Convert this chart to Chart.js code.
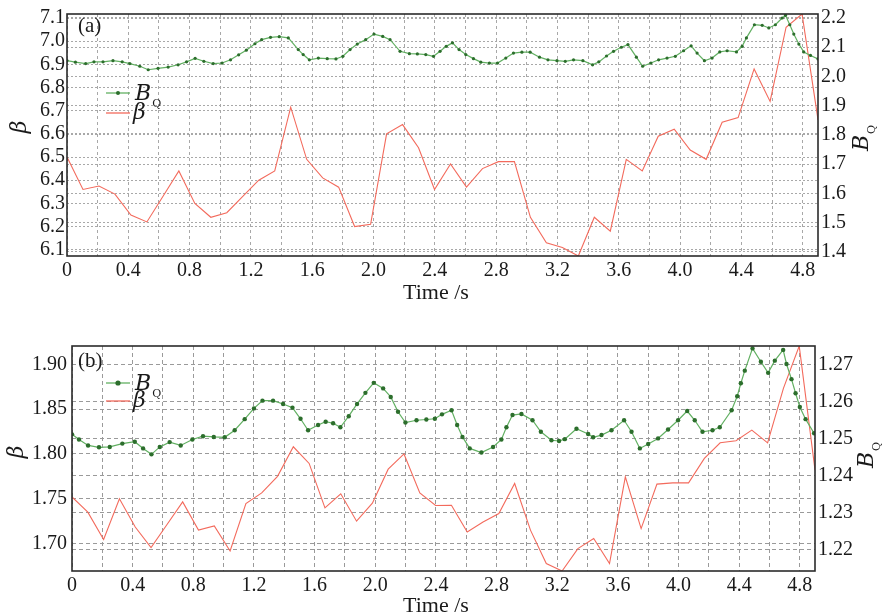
<!DOCTYPE html>
<html>
<head>
<meta charset="utf-8">
<title>beta and B_Q versus time</title>
<script src="https://cdn.jsdelivr.net/npm/chart.js@4.4.1/dist/chart.umd.min.js"></script>
<style>
  html, body { margin: 0; padding: 0; background: #fff; }
  #wrap { position: relative; width: 882px; height: 616px; overflow: hidden; }
  canvas { position: absolute; left: 0; }
  #chartA { top: 0; }
  #chartB { top: 310px; }
</style>
</head>
<body>
<div id="wrap">
  <canvas id="chartA" width="882" height="310"></canvas>
  <canvas id="chartB" width="882" height="306"></canvas>
</div>
<script>
/**
 * Two stacked panels: beta (left axis) and B_Q (right axis) against time.
 */

// ---- shared x axis ----
const timeMax = 4.9;
const timeStep = 0.2;            // grid spacing, labels every 0.4

// beta is sampled at a fixed step (48 samples from 0 to 4.9 s)
const betaSampleStep = 0.10426;

// ---- panel (a) ----
const betaA = [
    6.50, 6.36, 6.375, 6.34, 6.25, 6.22, 6.33, 6.44, 6.30, 6.24,
    6.26, 6.33, 6.40, 6.44, 6.715, 6.49, 6.41, 6.37, 6.20, 6.21,
    6.60, 6.64, 6.54, 6.36, 6.47, 6.37, 6.45, 6.48, 6.48, 6.24,
    6.13, 6.11, 6.073, 6.24, 6.18, 6.49, 6.44, 6.59, 6.62, 6.53,
    6.49, 6.65, 6.67, 6.88, 6.74, 7.06, 7.117, 6.66
];
const bqTimeA = [
    0, 0.055, 0.122, 0.176, 0.235, 0.30, 0.36, 0.41, 0.475, 0.53,
    0.594, 0.66, 0.725, 0.78, 0.836, 0.893, 0.954, 1.012, 1.067, 1.12,
    1.17, 1.226, 1.27, 1.328, 1.385, 1.444, 1.509, 1.541, 1.581, 1.64,
    1.698, 1.755, 1.80, 1.847, 1.894, 1.949, 2.003, 2.06, 2.108, 2.173,
    2.234, 2.286, 2.341, 2.391, 2.434, 2.474, 2.515, 2.558, 2.602, 2.652,
    2.70, 2.756, 2.809, 2.863, 2.913, 2.968, 3.022, 3.083, 3.138, 3.197,
    3.251, 3.305, 3.366, 3.429, 3.47, 3.52, 3.566, 3.617, 3.66, 3.715,
    3.756, 3.81, 3.86, 3.915, 3.969, 4.023, 4.072, 4.111, 4.159, 4.209,
    4.259, 4.307, 4.368, 4.405, 4.433, 4.485, 4.536, 4.579, 4.622, 4.666,
    4.688, 4.716, 4.742, 4.775, 4.807, 4.851, 4.90
];
const bqA = [
    2.054, 2.049, 2.044, 2.050, 2.050, 2.054, 2.050, 2.044, 2.035, 2.023,
    2.028, 2.032, 2.040, 2.050, 2.062, 2.052, 2.044, 2.046, 2.057, 2.074,
    2.090, 2.112, 2.126, 2.134, 2.136, 2.132, 2.092, 2.075, 2.057, 2.063,
    2.061, 2.060, 2.069, 2.092, 2.111, 2.126, 2.145, 2.137, 2.126, 2.086,
    2.078, 2.077, 2.075, 2.069, 2.086, 2.103, 2.115, 2.092, 2.075, 2.061,
    2.049, 2.046, 2.046, 2.063, 2.080, 2.083, 2.083, 2.066, 2.057, 2.054,
    2.052, 2.057, 2.054, 2.040, 2.050, 2.070, 2.086, 2.100, 2.109, 2.066,
    2.035, 2.046, 2.057, 2.063, 2.069, 2.088, 2.105, 2.080, 2.054, 2.063,
    2.084, 2.088, 2.084, 2.103, 2.132, 2.177, 2.175, 2.166, 2.177, 2.200,
    2.209, 2.177, 2.145, 2.111, 2.084, 2.072, 2.060
];

// ---- panel (b) ----
const betaB = [
    1.752, 1.735, 1.7045, 1.750, 1.7185, 1.6955, 1.721, 1.7465, 1.715, 1.7197,
    1.6917, 1.7447, 1.7565, 1.775, 1.808, 1.7894, 1.7398, 1.7555, 1.725, 1.745,
    1.783, 1.800, 1.7565, 1.7425, 1.7428, 1.713, 1.7241, 1.7335, 1.767, 1.715,
    1.6777, 1.6694, 1.6944, 1.7056, 1.6777, 1.7744, 1.7167, 1.7663, 1.7677, 1.7677,
    1.795, 1.8124, 1.8147, 1.8266, 1.8124, 1.8732, 1.9204, 1.7819
];
const bqTimeB = [
    0, 0.046, 0.106, 0.178, 0.249, 0.332, 0.414, 0.469, 0.524, 0.579,
    0.644, 0.717, 0.794, 0.864, 0.935, 1.007, 1.073, 1.139, 1.20, 1.256,
    1.326, 1.392, 1.454, 1.507, 1.557, 1.623, 1.673, 1.722, 1.770, 1.825,
    1.880, 1.935, 1.990, 2.052, 2.102, 2.150, 2.199, 2.272, 2.337, 2.393,
    2.440, 2.503, 2.540, 2.575, 2.623, 2.700, 2.777, 2.832, 2.865, 2.905,
    2.964, 3.037, 3.092, 3.162, 3.212, 3.25, 3.327, 3.404, 3.437, 3.492,
    3.558, 3.641, 3.69, 3.745, 3.80, 3.865, 3.931, 3.997, 4.057, 4.107,
    4.158, 4.224, 4.272, 4.35, 4.387, 4.411, 4.437, 4.488, 4.543, 4.591,
    4.635, 4.690, 4.712, 4.745, 4.772, 4.80, 4.838, 4.894
];
const bqB = [
    1.2511, 1.2497, 1.2481, 1.2476, 1.2477, 1.2486, 1.2491, 1.2473, 1.2457, 1.2477,
    1.2490, 1.2481, 1.2497, 1.2506, 1.2504, 1.2503, 1.2522, 1.2552, 1.2581, 1.2602,
    1.2602, 1.2593, 1.2583, 1.2553, 1.2522, 1.2536, 1.2545, 1.2541, 1.2530, 1.2560,
    1.2593, 1.2623, 1.2650, 1.2635, 1.2612, 1.2572, 1.2543, 1.2549, 1.2551, 1.2553,
    1.2565, 1.2576, 1.2536, 1.2504, 1.2473, 1.2462, 1.2477, 1.2497, 1.2530, 1.2563,
    1.2566, 1.2549, 1.2518, 1.2495, 1.2493, 1.2498, 1.2526, 1.2512, 1.2503, 1.2509,
    1.2522, 1.2549, 1.2518, 1.2473, 1.2485, 1.2500, 1.2524, 1.2549, 1.2574, 1.2549,
    1.2518, 1.2522, 1.2530, 1.2576, 1.2614, 1.2649, 1.2683, 1.2743, 1.2707, 1.2677,
    1.2710, 1.2739, 1.2701, 1.2660, 1.2622, 1.2585, 1.2552, 1.2514
];

// axis ranges and tick steps
const betaRangeA = [6.073, 7.117], betaTickA = 0.1;
const bqRangeA = [1.386, 2.2137], bqTickA = 0.1;
const betaRangeB = [1.6694, 1.9204], betaTickB = 0.05;
const bqRangeB = [1.2142, 1.27495], bqTickB = 0.01;

// ---- styling ----
const SERIF = '"Liberation Serif", "DejaVu Serif", serif';
const MATH = '"DejaVu Serif", serif';
const GREEN_LINE = '#62b062';
const GREEN_DOT = '#2c6e2c';
const RED_LINE = '#f36a5c';
const TEXT = '#1a1a1a';

function xTickLabel(value) {
    const k = Math.round(value * 10);
    if (k % 4 !== 0) return '';
    return k === 0 ? '0' : (k / 10).toFixed(1);
}

function drawBQ(ctx, x, y, size) {
    ctx.font = 'italic ' + size + 'px ' + MATH;
    ctx.fillText('B', x, y);
    const w = ctx.measureText('B').width;
    ctx.font = Math.round(size * 0.52) + 'px ' + MATH;
    ctx.fillText('Q', x + w + 1, y + size * 0.32);
}

function bqWidth(ctx, size) {
    ctx.font = 'italic ' + size + 'px ' + MATH;
    const w = ctx.measureText('B').width;
    ctx.font = Math.round(size * 0.52) + 'px ' + MATH;
    return w + 1 + ctx.measureText('Q').width;
}

// frame, panel tag, legend and axis titles
const decorations = {
    id: 'decorations',
    afterDraw(chart, args, o) {
        const ctx = chart.ctx;
        const a = chart.chartArea;
        ctx.save();
        ctx.strokeStyle = '#2b2b2b';
        ctx.lineWidth = 1.6;
        ctx.strokeRect(a.left, a.top, a.right - a.left, a.bottom - a.top);

        ctx.fillStyle = TEXT;
        ctx.textAlign = 'left';
        ctx.textBaseline = 'alphabetic';
        ctx.font = '21px ' + SERIF;
        ctx.fillText(o.tag, o.tagX, o.tagY);

        // legend
        ctx.lineWidth = 1.3;
        ctx.strokeStyle = GREEN_LINE;
        ctx.beginPath();
        ctx.moveTo(o.legX, o.legY1);
        ctx.lineTo(o.legX + o.legLen, o.legY1);
        ctx.stroke();
        ctx.fillStyle = GREEN_DOT;
        ctx.beginPath();
        ctx.arc(o.legX + o.legLen / 2, o.legY1, o.dot + 0.4, 0, Math.PI * 2);
        ctx.fill();
        ctx.strokeStyle = RED_LINE;
        ctx.beginPath();
        ctx.moveTo(o.legX, o.legY2);
        ctx.lineTo(o.legX + o.legLen, o.legY2);
        ctx.stroke();

        ctx.fillStyle = TEXT;
        drawBQ(ctx, o.legX + o.legLen + 5, o.legY1 + 7, 22);
        ctx.font = 'italic 22px ' + MATH;
        ctx.fillText('\u03B2', o.legX + o.legLen + 3, o.legY2 + 6);

        // x title
        ctx.font = '22px ' + SERIF;
        ctx.textAlign = 'center';
        ctx.textBaseline = 'middle';
        ctx.fillText('Time /s', o.xTitleX, o.xTitleY);

        // left title
        ctx.save();
        ctx.translate(o.leftTitleX, o.leftTitleY);
        ctx.rotate(-Math.PI / 2);
        ctx.font = 'italic 22px ' + MATH;
        ctx.fillText('\u03B2', 0, 0);
        ctx.restore();

        // right title
        ctx.save();
        ctx.translate(o.rightTitleX, o.rightTitleY);
        ctx.rotate(-Math.PI / 2);
        ctx.textAlign = 'left';
        ctx.textBaseline = 'alphabetic';
        const w = bqWidth(ctx, 22);
        drawBQ(ctx, -w / 2, 7, 22);
        ctx.restore();

        ctx.restore();
    }
};

function makePanel(canvasId, p) {
    const tickFont = { family: SERIF, size: 20, lineHeight: 1.0 };
    return new Chart(document.getElementById(canvasId), {
        type: 'line',
        data: {
            datasets: [{
                label: 'B_Q',
                data: p.bqTime.map((t, i) => ({ x: t, y: p.bq[i] })),
                yAxisID: 'yR',
                borderColor: GREEN_LINE,
                borderWidth: 1.2,
                pointRadius: p.dot,
                pointBackgroundColor: GREEN_DOT,
                pointBorderWidth: 0,
                tension: 0
            }, {
                label: '\u03B2',
                data: p.beta.map((v, i) => ({ x: i * betaSampleStep, y: v })),
                yAxisID: 'yL',
                borderColor: RED_LINE,
                borderWidth: 1.1,
                pointRadius: 0,
                tension: 0
            }]
        },
        options: {
            responsive: false,
            animation: false,
            devicePixelRatio: 1,
            layout: { padding: { top: p.padTop, left: 0, right: 0, bottom: 0 } },
            plugins: {
                legend: { display: false },
                tooltip: { enabled: false },
                decorations: p.deco
            },
            scales: {
                x: {
                    type: 'linear',
                    min: 0,
                    max: timeMax,
                    afterFit: s => { s.height = p.xAxisH; },
                    grid: { color: p.gridColor, lineWidth: 1, drawTicks: false },
                    border: { display: false, dash: p.vDash },
                    ticks: {
                        stepSize: timeStep, includeBounds: false, autoSkip: false,
                        maxRotation: 0, minRotation: 0,
                        padding: p.xPad, font: tickFont, color: TEXT, callback: xTickLabel
                    }
                },
                yL: {
                    type: 'linear',
                    position: 'left',
                    min: p.betaRange[0],
                    max: p.betaRange[1],
                    afterFit: s => { s.width = p.leftW; },
                    grid: { color: p.gridColor, lineWidth: 1, drawTicks: false },
                    border: { display: false, dash: p.hDash },
                    ticks: {
                        stepSize: p.betaTick, includeBounds: false, autoSkip: false,
                        padding: p.yPadL, font: tickFont, color: TEXT,
                        callback: v => v.toFixed(p.decL)
                    }
                },
                yR: {
                    type: 'linear',
                    position: 'right',
                    min: p.bqRange[0],
                    max: p.bqRange[1],
                    afterFit: s => { s.width = p.rightW; },
                    grid: { color: p.gridColor, lineWidth: 1, drawTicks: false, drawOnChartArea: true },
                    border: { display: false, dash: p.hDash },
                    ticks: {
                        stepSize: p.bqTick, includeBounds: false, autoSkip: false,
                        padding: 3, font: tickFont, color: TEXT,
                        callback: v => v.toFixed(p.decR)
                    }
                }
            }
        },
        plugins: [decorations]
    });
}

makePanel('chartA', {
    beta: betaA, bqTime: bqTimeA, bq: bqA,
    betaRange: betaRangeA, betaTick: betaTickA, decL: 1,
    bqRange: bqRangeA, bqTick: bqTickA, decR: 1,
    padTop: 14, leftW: 67, rightW: 64, xAxisH: 54,
    xPad: 5, yPadL: 2, dot: 1.6,
    gridColor: '#a8a8a8', vDash: [3, 3], hDash: [2, 2],
    deco: {
        tag: '(a)', tagX: 78, tagY: 32,
        legX: 106, legLen: 24, legY1: 93, legY2: 113, dot: 1.6,
        xTitleX: 436, xTitleY: 293,
        leftTitleX: 20, leftTitleY: 127,
        rightTitleX: 861, rightTitleY: 138
    }
});

makePanel('chartB', {
    beta: betaB, bqTime: bqTimeB, bq: bqB,
    betaRange: betaRangeB, betaTick: betaTickB, decL: 2,
    bqRange: bqRangeB, bqTick: bqTickB, decR: 2,
    padTop: 36, leftW: 72, rightW: 67, xAxisH: 45,
    xPad: 5, yPadL: 5, dot: 2.2,
    gridColor: '#9a9a9a', vDash: [4, 3], hDash: [4, 3],
    deco: {
        tag: '(b)', tagX: 78, tagY: 57,
        legX: 106, legLen: 24, legY1: 73, legY2: 91, dot: 2.2,
        xTitleX: 436, xTitleY: 296,
        leftTitleX: 17, leftTitleY: 142,
        rightTitleX: 866, rightTitleY: 145
    }
});
</script>
</body>
</html>
